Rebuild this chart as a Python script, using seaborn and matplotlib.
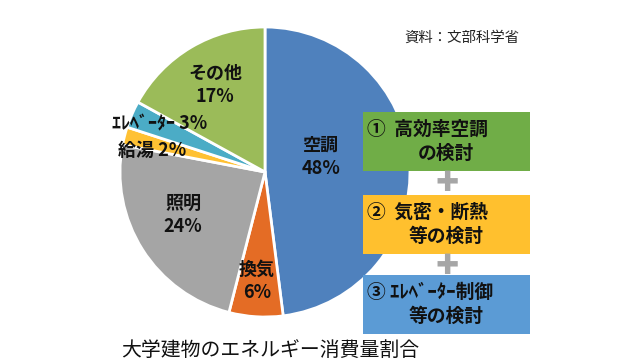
import matplotlib
matplotlib.use("Agg")
import matplotlib.pyplot as plt
import seaborn as sns
from matplotlib.patches import Rectangle

# データ（大学建物のエネルギー消費量割合）
categories = ["空調", "換気", "照明", "給湯", "ｴﾚﾍﾞｰﾀｰ", "その他"]
shares = [48, 6, 24, 2, 3, 17]
slice_colors = ["#4F81BD", "#E46C25", "#A5A5A5", "#FFC133", "#4BACC6", "#9BBB59"]

measure_line1 = ["①  高効率空調", "②  気密・断熱", "③ ｴﾚﾍﾞｰﾀｰ制御"]
measure_line2 = ["の検討", "等の検討", "等の検討"]
measure_colors = ["#70AD47", "#FFC02E", "#5B9BD5"]

sns.set_theme(style="white")
plt.rcParams['font.family'] = ['Noto Sans CJK JP', 'DejaVu Sans']

fig = plt.figure(figsize=(6.4, 3.62), dpi=100)
ax = fig.add_axes([0, 0, 1, 1])

# 円グラフ
cx, cy, r = 265, 190, 145
ax.pie(shares, colors=slice_colors, startangle=90, counterclock=False,
       center=(cx, cy), radius=r, frame=True,
       wedgeprops=dict(edgecolor="white", linewidth=2))
ax.set_xlim(0, 640)
ax.set_ylim(0, 362)
ax.set_aspect("equal")
ax.axis("off")

# ラベル
lab_kw = dict(ha="center", va="center", fontsize=13, fontweight="bold",
              color="#111111", linespacing=1.3)
ax.text(321, 362 - 157, f"{categories[0]}\n{shares[0]}%", **lab_kw)
ax.text(257, 362 - 281, f"{categories[1]}\n{shares[1]}%", **lab_kw)
ax.text(183, 362 - 215, f"{categories[2]}\n{shares[2]}%", **lab_kw)
ax.text(152, 362 - 150, f"{categories[3]} {shares[3]}%", **lab_kw)
ax.text(160, 362 - 124, f"{categories[4]} {shares[4]}%", **lab_kw)
ax.text(215, 362 - 85, f"{categories[5]}\n{shares[5]}%", **lab_kw)

# 対策ボックス
box_tops = [112, 195, 275]
for top, l1, l2, col in zip(box_tops, measure_line1, measure_line2, measure_colors):
    ax.add_patch(Rectangle((363, 362 - top - 59), 167, 59, facecolor=col,
                           edgecolor="none", zorder=3))
    ax.text(367, 362 - top - 17, l1, ha="left", va="center", fontsize=13.5,
            fontweight="bold", color="#111111", zorder=4)
    ax.text(446, 362 - top - 41, l2, ha="center", va="center", fontsize=13.5,
            fontweight="bold", color="#111111", zorder=4)

# プラス記号
for py in [183, 266]:
    ax.text(447, 362 - py, "✚", ha="center", va="center", fontsize=20,
            family=["DejaVu Sans"], color="#A6A6A6", zorder=4)

ax.text(462, 362 - 38, "資料：文部科学省", ha="center", va="center", fontsize=10.4,
        color="#222222")
ax.text(270, 362 - 350, "大学建物のエネルギー消費量割合", ha="center", va="center",
        fontsize=14.3, color="#111111")

fig.savefig("out.png", dpi=100)
